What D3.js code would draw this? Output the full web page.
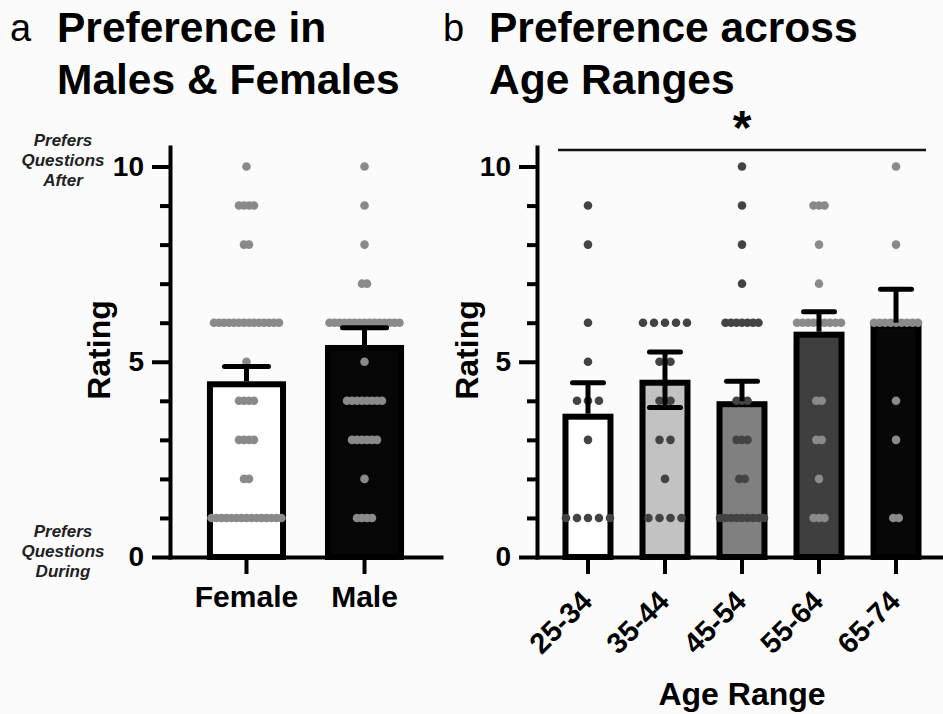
<!DOCTYPE html>
<html>
<head>
<meta charset="utf-8">
<script src="https://cdn.jsdelivr.net/npm/d3@7"></script>
<style>
  body { margin: 0; background: #fbfbfb; }
  svg { display: block; font-family: "Liberation Sans", Arial, Helvetica, sans-serif; }
</style>
</head>
<body>
<div id="chart"></div>
<script>
// rating levels used for the dot rows
const ratingLevels = [1, 2, 3, 4, 5, 6, 7, 8, 9, 10]

// panel a - sex
const sexGroups = ['Female', 'Male']
const sexMeans = [4.5, 5.43]
const sexSem = [0.38, 0.44]
// number of respondents at each rating level (1..10)
const femaleCounts = [15, 2, 4, 4, 1, 14, 0, 2, 4, 1]
const maleCounts   = [4, 1, 6, 8, 1, 15, 2, 1, 1, 1]

// panel b - age range
const ageGroups = ['25-34', '35-44', '45-54', '55-64', '65-74']
const ageMeans = [3.67, 4.54, 3.99, 5.77, 6.0]
const ageSem = [0.79, 0.71, 0.51, 0.51, 0.86]
const ageCounts2534 = [5, 0, 1, 3, 1, 1, 0, 1, 1, 0]
const ageCounts3544 = [4, 1, 2, 2, 2, 5, 0, 0, 0, 0]
const ageCounts4554 = [9, 2, 3, 3, 0, 7, 1, 1, 1, 1]
const ageCounts5564 = [3, 1, 2, 2, 0, 9, 1, 1, 3, 0]
const ageCounts6574 = [2, 0, 1, 1, 0, 9, 0, 1, 0, 1]

const yTicks = [0, 1, 2, 3, 4, 5, 6, 7, 8, 9, 10]

// styles
const W = 943, H = 714
const sexFill = ['#ffffff', '#060606']
const sexDot = ['#8a8a8a', '#8a8a8a']
const ageFill = ['#ffffff', '#c2c2c2', '#808080', '#3f3f3f', '#070707']
const ageDot = ['#434343', '#434343', '#434343', '#8a8a8a', '#8a8a8a']
const ageLowerErr = [false, true, false, false, false]

const svg = d3.select('#chart')
  .append('svg')
    .attr('width', W)
    .attr('height', H)

svg.append('rect')
  .attr('width', W).attr('height', H)
  .attr('fill', '#fbfbfb')

// shared y scale (both panels use the same vertical extent)
const y = d3.scaleLinear()
  .domain([0, 10.5])
  .range([557, 147])

function drawPanel(cfg) {
  const x = d3.scaleBand()
    .domain(cfg.groups)
    .range(cfg.xRange)
    .paddingInner(cfg.padInner)
    .paddingOuter(cfg.padOuter)

  const g = svg.append('g')
  const sw = 6
  const bw = x.bandwidth()

  // y axis
  const yAxis = d3.axisLeft(y)
    .tickValues(yTicks)
    .tickSize(18)
    .tickSizeOuter(0)
    .tickPadding(8)
    .tickFormat(d => d % 5 === 0 ? d : '')

  const ya = g.append('g')
    .attr('transform', 'translate(' + cfg.xRange[0] + ',0)')
    .call(yAxis)
  ya.selectAll('.tick line')
    .attr('stroke-width', 4)
    .attr('x2', d => d % 5 === 0 ? -18 : -10)
  ya.select('.domain').attr('stroke-width', 4).attr('stroke-linecap', 'square')
  ya.selectAll('.tick text')
    .attr('font-size', 28)
    .attr('font-weight', 'bold')
    .attr('fill', '#000')

  g.append('text')
    .attr('transform', 'translate(' + cfg.ratingX + ',' + y(5.3) + ') rotate(-90)')
    .attr('text-anchor', 'middle')
    .attr('font-size', 32)
    .attr('font-weight', 'bold')
    .text('Rating')

  // bars
  g.selectAll('.bar')
    .data(cfg.groups)
    .enter()
    .append('rect')
    .attr('class', 'bar')
    .attr('x', d => x(d) + sw / 2)
    .attr('width', bw - sw)
    .attr('y', (d, i) => y(cfg.means[i]) + sw / 2)
    .attr('height', (d, i) => y(0) - y(cfg.means[i]) - sw / 2)
    .attr('fill', (d, i) => cfg.fills[i])
    .attr('stroke', '#000')
    .attr('stroke-width', sw)

  // dots, spread sideways per rating row
  cfg.groups.forEach((grp, gi) => {
    const counts = cfg.counts[gi]
    const maxN = d3.max(counts)
    const step = Math.min(cfg.maxStep, cfg.maxSpan / Math.max(1, maxN - 1))
    const cx = x(grp) + bw / 2
    const pts = []
    ratingLevels.forEach((r, ri) => {
      const n = counts[ri]
      for (let k = 0; k < n; k++) {
        pts.push({ x: cx + (k - (n - 1) / 2) * step, v: r })
      }
    })
    g.append('g')
      .selectAll('circle')
      .data(pts)
      .enter()
      .append('circle')
      .attr('cx', d => d.x)
      .attr('cy', d => y(d.v))
      .attr('r', 4.3)
      .attr('fill', cfg.dotColors[gi])
  })

  // error bars (SEM)
  cfg.groups.forEach((grp, gi) => {
    const cx = x(grp) + bw / 2
    const m = cfg.means[gi], s = cfg.sem[gi]
    const lo = cfg.lower[gi] ? m - s : m
    const eg = g.append('g').attr('stroke', '#000').attr('stroke-width', 5)
    eg.append('line')
      .attr('x1', cx).attr('x2', cx)
      .attr('y1', y(lo)).attr('y2', y(m + s))
    eg.append('line')
      .attr('x1', cx - cfg.capW / 2).attr('x2', cx + cfg.capW / 2)
      .attr('y1', y(m + s)).attr('y2', y(m + s))
      .attr('stroke-linecap', 'round')
    if (cfg.lower[gi]) {
      eg.append('line')
        .attr('x1', cx - cfg.capW / 2).attr('x2', cx + cfg.capW / 2)
        .attr('y1', y(lo)).attr('y2', y(lo))
        .attr('stroke-linecap', 'round')
    }
  })

  // x axis
  const xAxis = d3.axisBottom(x)
    .tickSize(17)
    .tickSizeOuter(0)
    .tickPadding(12)
  const xa = g.append('g')
    .attr('transform', 'translate(0,' + y(0) + ')')
    .call(xAxis)
  xa.selectAll('.tick line').attr('stroke-width', 4)
  xa.select('.domain').attr('stroke-width', 4).attr('stroke-linecap', 'square')
  xa.selectAll('.tick text')
    .attr('font-size', cfg.xLabelSize)
    .attr('font-weight', 'bold')
    .attr('fill', '#000')
  if (cfg.rotate) {
    xa.selectAll('.tick text')
      .attr('y', 0)
      .attr('dy', 0)
      .attr('text-anchor', 'end')
      .attr('transform', 'translate(6,46) rotate(-45)')
  }
  return g
}

drawPanel({
  groups: sexGroups, means: sexMeans, sem: sexSem,
  counts: [femaleCounts, maleCounts],
  fills: sexFill, dotColors: sexDot, lower: [false, false],
  xRange: [170, 441], padInner: 0.33, padOuter: 0.313,
  maxStep: 6, maxSpan: 70, capW: 44, ratingX: 110,
  xLabelSize: 30, rotate: false
})

drawPanel({
  groups: ageGroups, means: ageMeans, sem: ageSem,
  counts: [ageCounts2534, ageCounts3544, ageCounts4554, ageCounts5564, ageCounts6574],
  fills: ageFill, dotColors: ageDot, lower: ageLowerErr,
  xRange: [537, 947], padInner: 0.338, padOuter: 0.331,
  maxStep: 11, maxSpan: 44, capW: 31, ratingX: 478,
  xLabelSize: 29, rotate: true
})

// axis title panel b
svg.append('text')
  .attr('x', 742).attr('y', 705)
  .attr('text-anchor', 'middle')
  .attr('font-size', 32).attr('font-weight', 'bold')
  .text('Age Range')

// significance bar
svg.append('line')
  .attr('x1', 558).attr('x2', 926)
  .attr('y1', 150).attr('y2', 150)
  .attr('stroke', '#111').attr('stroke-width', 2.5)
svg.append('text')
  .attr('x', 742).attr('y', 144)
  .attr('text-anchor', 'middle')
  .attr('font-size', 48).attr('font-weight', 'bold')
  .text('*')

// panel letters and titles
const titleFont = 42.5
svg.append('text').attr('x', 10).attr('y', 41).attr('font-size', 38).text('a')
svg.append('text').attr('x', 443).attr('y', 41).attr('font-size', 38).text('b')
const titles = [
  { x: 57, y: 42, t: 'Preference in' },
  { x: 57, y: 94, t: 'Males & Females' },
  { x: 489, y: 42, t: 'Preference across' },
  { x: 489, y: 94, t: 'Age Ranges' }
]
svg.selectAll('.title')
  .data(titles)
  .enter()
  .append('text')
  .attr('class', 'title')
  .attr('x', d => d.x).attr('y', d => d.y)
  .attr('font-size', titleFont).attr('font-weight', 'bold')
  .text(d => d.t)

// end-point annotations
const notes = [
  { y: 146, t: 'Prefers' }, { y: 166, t: 'Questions' }, { y: 186, t: 'After' },
  { y: 537, t: 'Prefers' }, { y: 557, t: 'Questions' }, { y: 577, t: 'During' }
]
svg.selectAll('.note')
  .data(notes)
  .enter()
  .append('text')
  .attr('class', 'note')
  .attr('x', 63).attr('y', d => d.y)
  .attr('text-anchor', 'middle')
  .attr('font-size', 17).attr('font-weight', 'bold').attr('font-style', 'italic')
  .attr('fill', '#222')
  .text(d => d.t)
</script>
</body>
</html>
